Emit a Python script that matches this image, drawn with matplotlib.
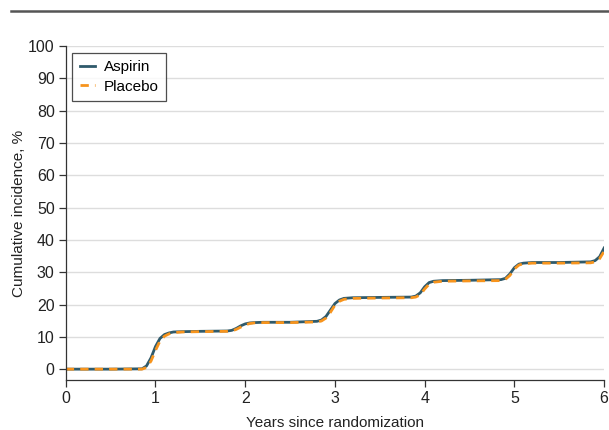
import matplotlib
matplotlib.use('Agg')
import matplotlib.pyplot as plt
from matplotlib.lines import Line2D

plt.rcParams['font.family'] = ['Liberation Sans', 'DejaVu Sans']

years = [0, 0.5, 0.85, 0.9, 0.95, 1.0, 1.05, 1.1, 1.15, 1.2, 1.3, 1.5, 1.8, 1.85, 1.9, 1.95,
         2.0, 2.05, 2.1, 2.2, 2.5, 2.8, 2.85, 2.9, 2.95, 3.0, 3.05, 3.1, 3.2, 3.5, 3.85, 3.9,
         3.95, 4.0, 4.05, 4.1, 4.2, 4.5, 4.85, 4.9, 4.95, 5.0, 5.05, 5.1, 5.2, 5.5, 5.85, 5.9,
         5.95, 6.0]
aspirin = [0, 0, 0.1, 1.0, 3.5, 7.0, 9.5, 10.7, 11.2, 11.5, 11.6, 11.7, 11.8, 12.0, 12.6, 13.4,
           14.0, 14.3, 14.4, 14.5, 14.5, 14.8, 15.2, 16.3, 18.3, 20.3, 21.4, 21.9, 22.1, 22.2, 22.3, 22.6,
           23.6, 25.5, 26.8, 27.2, 27.4, 27.5, 27.7, 28.1, 29.5, 31.4, 32.5, 32.8, 33.0, 33.0, 33.2, 33.6,
           34.8, 37.5]
placebo = [0, 0, 0, 0.5, 2.5, 5.8, 8.7, 10.2, 10.9, 11.3, 11.5, 11.6, 11.7, 11.8, 12.3, 13.0,
           13.7, 14.1, 14.3, 14.4, 14.4, 14.6, 14.9, 15.8, 17.6, 19.8, 21.0, 21.6, 21.9, 22.0, 22.1, 22.3,
           23.0, 24.8, 26.3, 26.9, 27.2, 27.3, 27.4, 27.8, 29.0, 31.0, 32.2, 32.6, 32.8, 32.8, 32.9, 33.2,
           34.2, 36.5]

ASPIRIN_COLOR = '#2f5a6b'
PLACEBO_COLOR = '#f7941d'
TEXT_COLOR = '#222222'

fig = plt.figure(figsize=(6.09, 4.30), dpi=100)
ax = fig.add_axes([0.108, 0.116, 0.884, 0.777])

# header rule at the top (title cut off above)
fig.add_artist(Line2D([0.018, 1.0], [0.974, 0.974], color='#555555', lw=1.8))

ax.plot(years, aspirin, color=ASPIRIN_COLOR, lw=2.0, label='Aspirin')
ax.plot(years, placebo, color=PLACEBO_COLOR, lw=2.0, ls=(0, (3, 2.2)), label='Placebo')

ax.set_xlim(0, 6)
ax.set_ylim(-3.4, 100)
ax.set_xticks(range(0, 7))
ax.set_yticks(range(0, 101, 10))
ax.yaxis.grid(True, color='#dddddd', lw=1.0)
ax.set_axisbelow(True)
for side in ['top', 'right']:
    ax.spines[side].set_visible(False)
for side in ['left', 'bottom']:
    ax.spines[side].set_color('#333333')
    ax.spines[side].set_linewidth(0.9)
ax.tick_params(direction='out', length=5, width=0.9, color='#333333', labelsize=11.5,
               labelcolor=TEXT_COLOR, pad=3)

ax.set_xlabel('Years since randomization', fontsize=11, color=TEXT_COLOR, labelpad=7)
ax.set_ylabel('Cumulative incidence, %', fontsize=11, color=TEXT_COLOR, labelpad=1.5)

leg = ax.legend(loc='upper left', bbox_to_anchor=(0.012, 0.98), fontsize=11, frameon=True,
                fancybox=False, handlelength=1.0, handletextpad=0.55, borderpad=0.5,
                labelspacing=0.35, borderaxespad=0)
leg.get_frame().set_edgecolor(TEXT_COLOR)
leg.get_frame().set_linewidth(0.9)

fig.savefig('out.png', dpi=100)
